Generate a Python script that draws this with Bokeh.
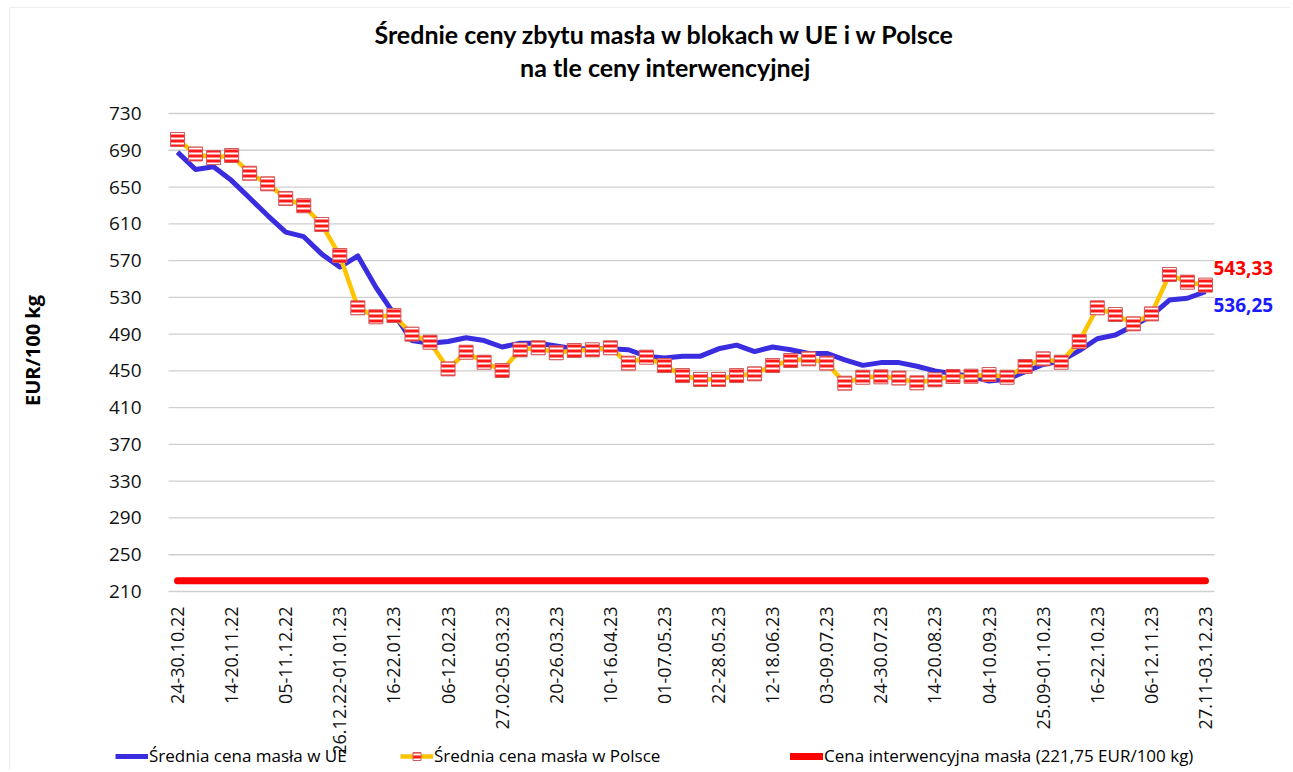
import math
from bokeh.plotting import figure
from bokeh.models import (ColumnDataSource, FixedTicker, Range1d, Legend, LegendItem, Label,
                          BoxAnnotation)
from bokeh.core.properties import value
from bokeh.embed import file_html
from bokeh.resources import INLINE

# ---- data ----
tick_labels = ["24-30.10.22", "14-20.11.22", "05-11.12.22", "26.12.22-01.01.23",
               "16-22.01.23", "06-12.02.23", "27.02-05.03.23", "20-26.03.23",
               "10-16.04.23", "01-07.05.23", "22-28.05.23", "12-18.06.23",
               "03-09.07.23", "24-30.07.23", "14-20.08.23", "04-10.09.23",
               "25.09-01.10.23", "16-22.10.23", "06-12.11.23", "27.11-03.12.23"]

eu = [688, 669, 672, 657, 638, 619, 601, 596, 577, 563,
      575, 541, 512, 483, 480, 482, 486, 483, 476, 480,
      480, 477, 474, 474, 474, 473, 466, 464, 466, 466,
      474, 478, 471, 476, 473, 469, 469, 462, 456, 459,
      459, 455, 450, 447, 444, 439, 441, 449, 457, 461,
      472, 485, 489, 499, 510, 527, 529, 536.25]

pl = [701.7, 686.0, 682.0, 684.3, 665.0, 653.5, 637.5, 629.6, 609.2, 575.5,
      518.6, 508.8, 510.2, 490.0, 481.2, 452.2, 470.3, 459.4, 450.4, 472.9,
      475.1, 469.7, 472.2, 472.9, 475.1, 458.4, 464.9, 455.8, 444.9, 440.6,
      440.6, 444.9, 446.8, 455.8, 461.3, 463.1, 458.4, 436.6, 443.1, 443.5,
      442.2, 437.0, 440.3, 443.9, 444.2, 446.0, 443.1, 454.8, 463.1, 459.4,
      481.9, 518.6, 511.3, 501.2, 512.0, 554.8, 546.5, 543.33]

interv = 221.75
y_min, y_max, y_step = 210, 730, 40
y_ticks = list(range(y_min, y_max + 1, y_step))

weeks = list(range(len(eu)))
tick_step = 3
tick_pos = [i * tick_step for i in range(len(tick_labels))]

src = ColumnDataSource(dict(x=weeks, eu=eu, pl=pl, iv=[interv] * len(weeks)))

FONT = "Open Sans"

# ---- layout geometry (pixels) ----
W, H = 1290, 770
area_left, area_width = 168, 1046      # plotting area for the weeks
area_top, area_bottom = 113, 591       # y_max at top, y_min at bottom
px_x = area_width / len(weeks)
px_y = (area_bottom - area_top) / (y_max - y_min)
x_lo = -0.5 - area_left / px_x
x_hi = -0.5 + (W - area_left) / px_x
y_hi = y_max + area_top / px_y
y_lo = y_min - (H - area_bottom) / px_y

p = figure(width=W, height=H, output_backend="svg", toolbar_location=None,
           x_range=Range1d(x_lo, x_hi), y_range=Range1d(y_lo, y_hi),
           min_border=0)
p.outline_line_color = None
p.background_fill_color = "white"
p.border_fill_color = "white"

# chart-area border (top and left edges visible)
p.add_layout(BoxAnnotation(left=x_lo + 9 / px_x, top=y_hi - 7 / px_y,
                           right=x_hi + 10, bottom=y_lo - 100,
                           fill_alpha=0, line_color="#c4c4c4", line_width=1.2))

# axes placed at the edges of the plotting area
p.xaxis.fixed_location = y_min
p.xaxis.ticker = FixedTicker(ticks=tick_pos)
p.xaxis.major_label_overrides = {t: l for t, l in zip(tick_pos, tick_labels)}
p.xaxis.major_label_orientation = math.pi / 2
p.xaxis.axis_line_color = None
p.xaxis.major_tick_line_color = None
p.xaxis.minor_tick_line_color = None
p.xaxis.major_label_standoff = 9
p.xaxis.major_label_text_font = FONT
p.xaxis.major_label_text_font_size = "18px"
p.xaxis.major_label_text_color = "#111111"

p.yaxis.fixed_location = -0.5
p.yaxis.ticker = FixedTicker(ticks=y_ticks)
p.yaxis.axis_line_color = None
p.yaxis.major_tick_line_color = None
p.yaxis.minor_tick_line_color = None
p.yaxis.major_label_standoff = 21
p.yaxis.major_label_text_font = FONT
p.yaxis.major_label_text_font_size = "19px"
p.yaxis.major_label_text_color = "#111111"

p.xgrid.grid_line_color = None
p.ygrid.grid_line_color = None
# horizontal gridlines across the weeks only
p.segment(x0=[-0.5] * len(y_ticks), x1=[len(weeks) - 0.5] * len(y_ticks),
          y0=y_ticks, y1=y_ticks, line_color="#cfcfcf", line_width=1.3)

# series
r_iv = p.line("x", "iv", source=src, line_color="#ff0000", line_width=7, line_cap="round")
r_eu = p.line("x", "eu", source=src, line_color="#3a2de0", line_width=5, line_join="round")
r_pl = p.line("x", "pl", source=src, line_color="#ffc400", line_width=4.5, line_join="round")
r_mk = p.scatter("x", "pl", source=src, marker="square", size=14,
                 fill_color="#ff1a1a", line_color="#cf5a5a", line_width=1,
                 hatch_pattern="horizontal_line", hatch_color="white",
                 hatch_scale=5, hatch_weight=2)

# end-value labels
last = len(weeks) - 1
lab_src = ColumnDataSource(dict(x=[weeks[last], weeks[last]], y=[pl[last], eu[last]],
                                t=[f"{pl[last]:.2f}".replace(".", ","), f"{eu[last]:.2f}".replace(".", ",")],
                                c=["#ff0000", "#1a1aff"], yo=[-17, 13]))
p.text("x", "y", text="t", source=lab_src, text_color="c", x_offset=8, y_offset="yo",
       text_font=value(FONT), text_font_style="bold", text_font_size="19px",
       text_baseline="middle", text_align="left")

# title (two centred lines)
for txt, cy in [("Średnie ceny zbytu masła w blokach w UE i w Polsce", 33),
                ("na tle ceny interwencyjnej", 66)]:
    p.add_layout(Label(x=665, y=H - cy, x_units="screen", y_units="screen", text=txt,
                       text_align="center", text_baseline="middle",
                       text_font="Lato", text_font_style="bold",
                       text_font_size="25px", text_color="#000000"))

# y-axis title
p.add_layout(Label(x=32, y=H - 350, x_units="screen", y_units="screen", text="EUR/100 kg",
                   angle=math.pi / 2, text_align="center", text_baseline="middle",
                   text_font=FONT, text_font_style="bold", text_font_size="20px",
                   text_color="#000000"))

# legend entries
entries = [("Średnia cena masła w UE", [r_eu], 115),
           ("Średnia cena masła w Polsce", [r_pl, r_mk], 400),
           ("Cena interwencyjna masła (221,75 EUR/100 kg)", [r_iv], 790)]
for lab, rends, lx in entries:
    lg = Legend(items=[LegendItem(label=lab, renderers=rends)],
                location=(lx, 3), orientation="horizontal",
                padding=0, margin=0, border_line_color=None, background_fill_alpha=0,
                glyph_width=33, glyph_height=20, label_height=20, label_standoff=1,
                label_text_font=FONT, label_text_font_size="17px",
                label_text_color="#000000")
    p.add_layout(lg)

open("out.html", "w").write(file_html(p, INLINE))
